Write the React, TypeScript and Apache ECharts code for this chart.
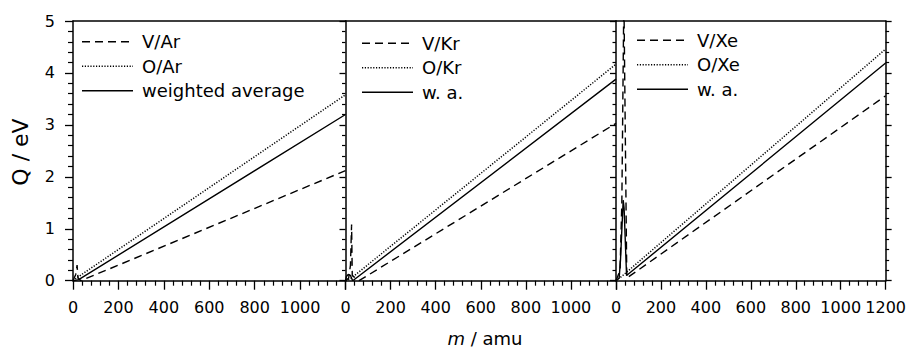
import React, { useEffect, useRef } from "react";
import * as echarts from "echarts";

// ---- data (m in amu, Q in eV) ----
const xTicks = [0, 200, 400, 600, 800, 1000, 1200];
const yTicks = [0, 1, 2, 3, 4, 5];

const vAr: number[][] = [[0, 0], [12, 0.12], [18, 0.3], [22, 0.05], [35, 0], [1200, 2.12]];
const oAr: number[][] = [[0, 0], [15, 0.05], [1200, 3.58]];
const waAr: number[][] = [[0, 0], [25, 0.02], [1200, 3.2]];

const vKr: number[][] = [[0, 0], [14, 0.05], [22, 0.3], [27, 1.08], [30, 0.1], [60, 0], [1200, 3.03]];
const oKr: number[][] = [[0, 0], [20, 0.03], [1200, 4.17]];
const waKr: number[][] = [[0, 0], [4, 0.08], [12, 0.12], [22, 0.1], [32, 0], [1200, 3.88]];

const vXe: number[][] = [[0, 0], [18, 0.2], [26, 1.5], [35, 5.5], [38, 5.5], [48, 0.05], [1200, 3.56]];
const oXe: number[][] = [[0, 0], [30, 0.1], [1200, 4.46]];
const waXe: number[][] = [[0, 0], [14, 0.05], [20, 0.4], [32, 1.55], [36, 1.4], [47, 0.1], [1200, 4.19]];

const panelNames = [
  ["V/Ar", "O/Ar", "weighted average"],
  ["V/Kr", "O/Kr", "w. a."],
  ["V/Xe", "O/Xe", "w. a."],
];
const panelData = [
  [vAr, oAr, waAr],
  [vKr, oKr, waKr],
  [vXe, oXe, waXe],
];

const FONT = "'DejaVu Sans', sans-serif";

export default function App() {
  const ref = useRef<HTMLDivElement>(null);
  useEffect(() => {
    if (!ref.current) return;
    const chart = echarts.init(ref.current, undefined, { renderer: "svg" });

    const grids = [
      { left: 73, top: 21, width: 272.5, height: 259.7 },
      { left: 345.5, top: 21, width: 270.5, height: 259.7 },
      { left: 616, top: 21, width: 271, height: 259.7 },
    ];
    const mkLine = () => ({ show: true, onZero: false, lineStyle: { color: "#000", width: 1.5 } });
    const mkTick = (len: number) => ({ show: true, inside: false, length: len, lineStyle: { color: "#000", width: 1.3 } });
    const mkMinor = (len: number) => ({ show: true, splitNumber: 5, length: len, lineStyle: { color: "#000", width: 1.2 } });
    const xMin = xTicks[0];
    const xMax = xTicks[xTicks.length - 1];
    const xInt = xTicks[1] - xTicks[0];

    const xAxes: any[] = [];
    for (let i = 0; i < 3; i++) {
      xAxes.push({
        type: "value",
        gridIndex: i,
        position: "bottom",
        min: xMin,
        max: xMax,
        interval: xInt,
        axisLine: mkLine(),
        splitLine: { show: false },
        axisTick: mkTick(9),
        minorTick: mkMinor(5),
        axisLabel: {
          show: true,
          margin: 19,
          color: "#000",
          fontSize: 16,
          fontFamily: FONT,
          showMaxLabel: i === 2,
          formatter: (v: number) => (i < 2 && v === xMax ? "" : String(v)),
        },
      });
    }
    for (let i = 0; i < 3; i++) {
      xAxes.push({
        type: "value",
        gridIndex: i,
        position: "top",
        min: xMin,
        max: xMax,
        interval: xInt,
        axisLine: mkLine(),
        splitLine: { show: false },
        axisTick: { show: false },
        axisLabel: { show: false },
      });
    }

    const yAxes: any[] = [];
    for (let i = 0; i < 3; i++) {
      yAxes.push({
        type: "value",
        gridIndex: i,
        position: "left",
        min: yTicks[0],
        max: yTicks[yTicks.length - 1],
        interval: 1,
        axisLine: mkLine(),
        splitLine: { show: false },
        axisTick: mkTick(i === 0 ? 8 : 6),
        minorTick: mkMinor(i === 0 ? 5 : 3.5),
        axisLabel: { show: i === 0, margin: 18, color: "#000", fontSize: 16, fontFamily: FONT },
      });
    }
    yAxes.push({
      type: "value",
      gridIndex: 2,
      position: "right",
      min: yTicks[0],
      max: yTicks[yTicks.length - 1],
      interval: 1,
      axisLine: mkLine(),
      splitLine: { show: false },
      axisTick: mkTick(6),
      minorTick: mkMinor(3.5),
      axisLabel: { show: false },
    });

    const styles: any[] = [
      { type: [8, 5], width: 1.4 },
      { type: [1.2, 1.6], width: 1.5 },
      { type: "solid", width: 1.4 },
    ];
    const dashes: any[] = [[8, 5], [1.2, 1.6], null];

    const series: any[] = [];
    for (let p = 0; p < 3; p++) {
      for (let s = 0; s < 3; s++) {
        series.push({
          type: "line",
          name: panelNames[p][s],
          xAxisIndex: p,
          yAxisIndex: p,
          data: panelData[p][s],
          showSymbol: false,
          symbol: "none",
          clip: true,
          lineStyle: { color: "#000", ...styles[s] },
          itemStyle: { color: "#000" },
        });
      }
    }

    // legend drawn as graphic: sample line + label per row
    const legendPos = [
      { x: 82, y: 41.7 },
      { x: 362, y: 43.3 },
      { x: 637, y: 40.3 },
    ];
    const rowGap = 24.5;
    const graphics: any[] = [];
    legendPos.forEach((pos, p) => {
      panelNames[p].forEach((name, s) => {
        const cy = pos.y + s * rowGap;
        graphics.push({
          type: "line",
          shape: { x1: pos.x, y1: cy, x2: pos.x + 51, y2: cy },
          style: { stroke: "#000", lineWidth: styles[s].width, lineDash: dashes[s] },
        });
        graphics.push({
          type: "text",
          x: pos.x + 60,
          y: cy,
          style: {
            text: name,
            fill: "#000",
            font: `18px ${FONT}`,
            textAlign: "left",
            textVerticalAlign: "middle",
          },
        });
      });
    });
    graphics.push({
      type: "text",
      x: 20,
      y: 152,
      rotation: Math.PI / 2,
      style: {
        text: "Q / eV",
        fill: "#000",
        font: `22px ${FONT}`,
        textAlign: "center",
        textVerticalAlign: "middle",
      },
    });
    graphics.push({
      type: "text",
      x: 485,
      y: 338,
      style: {
        text: "{i|m} / amu",
        fill: "#000",
        font: `18px ${FONT}`,
        textAlign: "center",
        textVerticalAlign: "middle",
        rich: { i: { fontStyle: "italic", fontSize: 18, fontFamily: FONT, fill: "#000" } },
      },
    });

    chart.setOption({
      animation: false,
      backgroundColor: "#fff",
      grid: grids,
      xAxis: xAxes,
      yAxis: yAxes,
      series,
      graphic: graphics,
    });
    return () => chart.dispose();
  }, []);
  return (
    <div
      ref={ref}
      style={{ position: "fixed", left: 0, top: 0, width: 909, height: 347, background: "#fff" }}
    />
  );
}
